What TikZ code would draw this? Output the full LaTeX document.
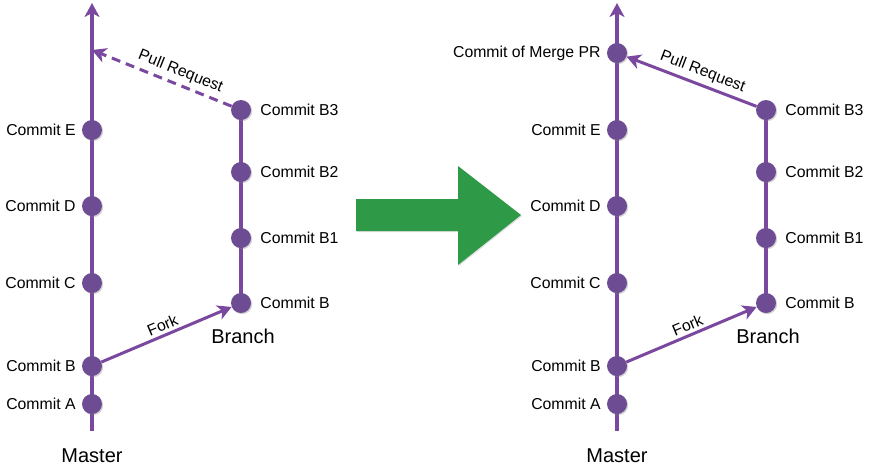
\documentclass[tikz,border=0pt]{standalone}
\usepackage{fontspec}
\setmainfont{Liberation Sans}
\usepackage{tikz}
\usetikzlibrary{arrows.meta,positioning,shadows}
\definecolor{gitline}{RGB}{122,72,158}
\definecolor{gitdot}{RGB}{110,76,148}
\definecolor{bigarrow}{RGB}{46,154,72}

\begin{document}
\begin{tikzpicture}[
  x=1pt, y=-1pt,
  commit/.style={circle, fill=gitdot, minimum size=20pt, inner sep=0pt,
    drop shadow={opacity=0.35, shadow xshift=1.2pt, shadow yshift=-1.2pt}},
  cl/.style={font=\fontsize{15.8}{18}\selectfont, inner sep=1pt},
  lbl/.style={label={[cl, label distance=5pt]left:#1}},
  lbr/.style={label={[cl, label distance=8pt]right:#1}},
  branchline/.style={line width=3.5pt, draw=gitline},
  arrow/.style={branchline, -{Stealth[length=14pt, width=15pt, inset=4pt]}},
  title/.style={font=\fontsize{20}{23}\selectfont},
]
  \useasboundingbox (0,0) rectangle (869,472);

  % ---- before the merge ----
  \coordinate (m1bot) at (92,431);
  \coordinate (m1top) at (92,3);
  \coordinate (pr1) at (92,50);
  \draw[arrow] (m1bot) -- (m1top);
  \draw[branchline] (241,303) -- (241,110);

  \node[commit, lbl=Commit A] (m1A) at (92,404) {};
  \node[commit, lbl=Commit B] (m1B) at (92,366) {};
  \node[commit, lbl=Commit C] (m1C) at (92,283) {};
  \node[commit, lbl=Commit D] (m1D) at (92,206) {};
  \node[commit, lbl=Commit E] (m1E) at (92,130) {};

  \node[commit, lbr=Commit B] (b1B) at (241,303) {};
  \node[commit, lbr=Commit B1] (b1B1) at (241,238) {};
  \node[commit, lbr=Commit B2] (b1B2) at (241,172) {};
  \node[commit, lbr=Commit B3] (b1B3) at (241,110) {};

  \draw[arrow, line width=3pt] (m1B) -- node[cl, midway, above=2pt, sloped] {Fork} (b1B);
  \draw[arrow, line width=3pt, dash pattern=on 9pt off 6pt] (b1B3) -- node[cl, pos=0.4, above=3pt, sloped] {Pull Request} (pr1);

  \node[title] (branch1) at (243,336) {Branch};
  \node[title] (master1) at (92,456) {Master};

  % ---- big green arrow ----
  \fill[bigarrow, drop shadow={opacity=0.25, shadow xshift=1pt, shadow yshift=-1pt}]
    (356,199) -- (458,199) -- (458,166) -- (521,215) -- (458,265) -- (458,231) -- (356,231) -- cycle;

  % ---- after the merge ----
  \coordinate (m2bot) at (617,431);
  \coordinate (m2top) at (617,3);
  \draw[arrow] (m2bot) -- (m2top);
  \draw[branchline] (766,303) -- (766,110);

  \node[commit, lbl=Commit A] (m2A) at (617,404) {};
  \node[commit, lbl=Commit B] (m2B) at (617,366) {};
  \node[commit, lbl=Commit C] (m2C) at (617,283) {};
  \node[commit, lbl=Commit D] (m2D) at (617,206) {};
  \node[commit, lbl=Commit E] (m2E) at (617,130) {};
  \node[commit, lbl=Commit of Merge PR] (m2PR) at (617,53) {};

  \node[commit, lbr=Commit B] (b2B) at (766,303) {};
  \node[commit, lbr=Commit B1] (b2B1) at (766,238) {};
  \node[commit, lbr=Commit B2] (b2B2) at (766,172) {};
  \node[commit, lbr=Commit B3] (b2B3) at (766,110) {};

  \draw[arrow, line width=3pt] (m2B) -- node[cl, midway, above=2pt, sloped] {Fork} (b2B);
  \draw[arrow, line width=3pt] (b2B3) -- node[cl, pos=0.45, above=3pt, sloped] {Pull Request} (m2PR);

  \node[title] (branch2) at (768,336) {Branch};
  \node[title] (master2) at (617,456) {Master};
\end{tikzpicture}
\end{document}
